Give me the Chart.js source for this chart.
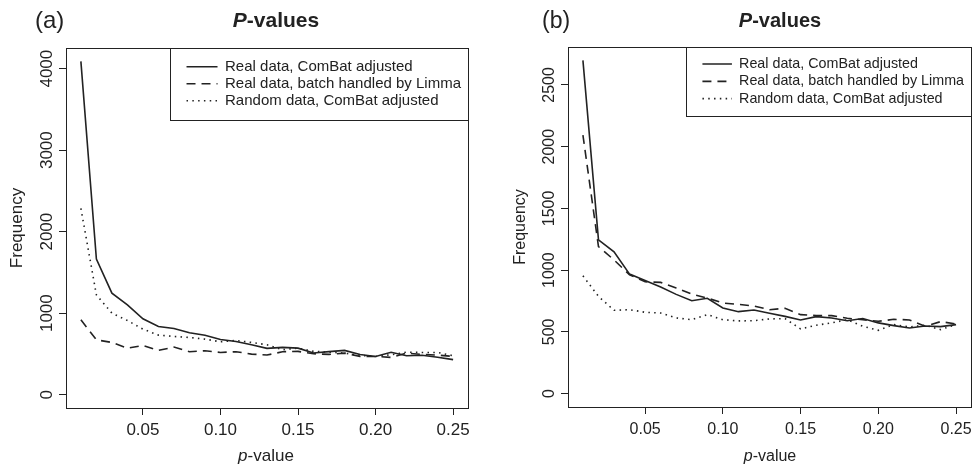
<!DOCTYPE html>
<html>
<head>
<meta charset="utf-8">
<title>P-values</title>
<script src="https://cdn.jsdelivr.net/npm/chart.js@4.4.1/dist/chart.umd.min.js"></script>
<style>
  html, body { margin: 0; padding: 0; background: #fff; }
  body { position: relative; width: 974px; height: 466px; overflow: hidden;
         font-family: 'Liberation Sans', Arial, sans-serif; color: #222; }
  canvas { position: absolute; top: 0; }
  .t { position: absolute; white-space: nowrap; line-height: 1; z-index: 2; }
  .mid { transform: translateX(-50%); }
  .bold { font-weight: bold; }
</style>
</head>
<body>
<canvas id="chartA" width="487" height="466" style="left:0"></canvas>
<canvas id="chartB" width="487" height="466" style="left:487px"></canvas>

<div class="t" style="left:35px;top:8px;font-size:24px">(a)</div>
<div class="t mid bold" style="left:276px;top:9px;font-size:21px"><i>P</i>-values</div>
<div class="t mid" style="left:266px;top:447px;font-size:17px"><i>p</i>-value</div>

<div class="t" style="left:542px;top:9px;font-size:23px">(b)</div>
<div class="t mid bold" style="left:780px;top:10px;font-size:20px"><i>P</i>-values</div>
<div class="t mid" style="left:770px;top:448px;font-size:16px"><i>p</i>-value</div>

<script>
// x positions (p-value bins) and tick labels
const pValues = [0.01, 0.02, 0.03, 0.04, 0.05, 0.06, 0.07, 0.08, 0.09, 0.10,
                 0.11, 0.12, 0.13, 0.14, 0.15, 0.16, 0.17, 0.18, 0.19, 0.20,
                 0.21, 0.22, 0.23, 0.24, 0.25];
const xTicks = [0.05, 0.10, 0.15, 0.20, 0.25];
const aYTicks = [0, 1000, 2000, 3000, 4000];
const bYTicks = [0, 500, 1000, 1500, 2000, 2500];

const seriesNames = ['Real data, ComBat adjusted',
                     'Real data, batch handled by Limma',
                     'Random data, ComBat adjusted'];

// panel (a)
const aCombat = [4090, 1665, 1245, 1102, 931, 837, 812, 760, 728, 676, 653, 612, 568,
                 580, 571, 512, 528, 543, 492, 469, 520, 478, 484, 460, 430];
const aLimma  = [918, 673, 641, 571, 604, 543, 584, 527, 539, 518, 527, 498, 486,
                 527, 531, 502, 494, 510, 469, 469, 457, 510, 494, 486, 469];
const aRandom = [2286, 1224, 1000, 910, 804, 731, 714, 702, 682, 649, 665, 641, 612,
                 551, 571, 531, 522, 510, 482, 469, 490, 522, 518, 518, 478];

// panel (b)
const bCombat = [2699, 1245, 1148, 968, 917, 863, 804, 753, 772, 694, 664, 677, 651,
                 626, 597, 624, 613, 591, 608, 573, 551, 532, 548, 543, 559];
const bLimma  = [2094, 1191, 1083, 962, 906, 901, 855, 806, 774, 734, 723, 710, 680,
                 691, 640, 632, 632, 610, 599, 586, 602, 597, 546, 583, 565];
const bRandom = [954, 788, 675, 680, 659, 653, 613, 599, 640, 599, 589, 591, 605,
                 608, 524, 554, 573, 599, 546, 513, 559, 540, 554, 519, 559];

const ink = '#222';
const family = "'Liberation Sans', Arial, sans-serif";
const dashes = [[], [9, 6], [1.5, 4.3]];

Chart.defaults.font.family = family;
Chart.defaults.color = ink;

// moves the legend into the top right corner of the plot
const legendBox = {
  id: 'legendBox',
  afterLayout(chart, args, o) {
    const lg = chart.legend, ca = chart.chartArea, ctx = chart.ctx;
    ctx.save();
    ctx.font = o.fontSize + 'px ' + family;
    const tw = Math.max(...chart.data.datasets.map(d => ctx.measureText(d.label).width));
    ctx.restore();
    const w = o.inset + o.pointW + o.fontSize / 2 + tw + o.gapRight;
    const left = ca.right - w;
    lg.left = left + o.inset - o.padding;
    lg.top = ca.top + o.top;
    lg.right = ca.right;
    lg.bottom = ca.bottom;
    lg.width = lg.right - lg.left;
    lg.height = lg.bottom - lg.top;
    chart.$box = { left: left, top: ca.top, width: w, height: o.height };
  }
};

// R style box round the plot and the legend
const frame = {
  id: 'frame',
  afterDraw(chart) {
    const { ctx, chartArea: a } = chart;
    ctx.save();
    ctx.strokeStyle = ink;
    ctx.lineWidth = 1;
    ctx.strokeRect(Math.round(a.left) + 0.5, Math.round(a.top) + 0.5,
                   Math.round(a.right - a.left), Math.round(a.bottom - a.top));
    const b = chart.$box;
    if (b) {
      ctx.strokeRect(Math.round(b.left) + 0.5, Math.round(b.top) + 0.5,
                     Math.round(a.right) - Math.round(b.left), Math.round(b.height));
    }
    ctx.restore();
  }
};

// legend items keep the dataset's dash pattern
function dashedLabels(chart) {
  return Chart.defaults.plugins.legend.labels.generateLabels(chart).map(item => {
    const ds = chart.data.datasets[item.datasetIndex];
    item.lineDash = ds.borderDash;
    item.lineWidth = ds.borderWidth;
    item.strokeStyle = ds.borderColor;
    return item;
  });
}

function makePanel(id, series, yTicks, p) {
  const yMax = Math.max(...series.flat());
  const xr = (pValues[pValues.length - 1] - pValues[0]) * 0.04;

  new Chart(document.getElementById(id), {
    type: 'line',
    data: {
      datasets: series.map((s, i) => ({
        label: seriesNames[i],
        data: s.map((v, j) => ({ x: pValues[j], y: v })),
        borderColor: ink,
        backgroundColor: ink,
        borderWidth: 1.6,
        borderDash: dashes[i],
        pointRadius: 0,
        tension: 0,
        fill: false
      }))
    },
    options: {
      responsive: false,
      devicePixelRatio: 1,
      animation: false,
      layout: { padding: p.pad },
      plugins: {
        title: { display: false },
        tooltip: { enabled: false },
        legend: {
          position: 'chartArea',
          align: 'start',
          labels: {
            usePointStyle: true,
            pointStyle: 'line',
            pointStyleWidth: p.pointW,
            padding: p.legendPad,
            color: ink,
            font: { size: p.legendFont, family: family },
            generateLabels: dashedLabels
          }
        },
        legendBox: {
          fontSize: p.legendFont, pointW: p.pointW, padding: p.legendPad,
          inset: 16.5, gapRight: 7, top: p.legendTop, height: p.boxH
        }
      },
      scales: {
        x: {
          type: 'linear',
          min: pValues[0] - xr,
          max: pValues[pValues.length - 1] + xr,
          afterBuildTicks: s => { s.ticks = xTicks.map(v => ({ value: v })); },
          afterFit: s => { s.height = p.xHeight; s.paddingLeft = 0; s.paddingRight = 0; },
          grid: { drawOnChartArea: false, drawTicks: true, tickLength: 7, color: ink },
          border: { display: false },
          ticks: {
            autoSkip: false, maxRotation: 0, padding: p.xTickPad, color: ink,
            font: { size: p.tickFont },
            callback: v => v.toFixed(2)
          }
        },
        y: {
          type: 'linear',
          min: -0.04 * yMax,
          max: 1.04 * yMax,
          afterBuildTicks: s => { s.ticks = yTicks.map(v => ({ value: v })); },
          afterFit: s => { s.width = p.yWidth; s.paddingTop = 0; s.paddingBottom = 0; },
          grid: { drawOnChartArea: false, drawTicks: true, tickLength: 7, color: ink },
          border: { display: false },
          title: {
            display: true, text: 'Frequency', color: ink,
            font: { size: p.tickFont },
            padding: { top: p.yTitlePad, bottom: 0 }
          },
          ticks: {
            autoSkip: false, minRotation: 90, maxRotation: 90,
            crossAlign: 'center', padding: p.yTickPad, color: ink,
            font: { size: p.tickFont },
            callback: v => String(v)
          }
        }
      }
    },
    plugins: [legendBox, frame]
  });
}

makePanel('chartA', [aCombat, aLimma, aRandom], aYTicks, {
  pad: { left: 0, right: 19, top: 48, bottom: 0 },
  yWidth: 66, xHeight: 58, tickFont: 17, xTickPad: 5, yTickPad: -7, yTitlePad: 6.8,
  legendFont: 15, legendPad: 2, pointW: 31, legendTop: 9.2, boxH: 72
});

makePanel('chartB', [bCombat, bLimma, bRandom], bYTicks, {
  pad: { left: 0, right: 3, top: 47, bottom: 0 },
  yWidth: 81, xHeight: 59, tickFont: 16, xTickPad: 6.4, yTickPad: -6.5, yTitlePad: 24.4,
  legendFont: 14.3, legendPad: 3, pointW: 29.5, legendTop: 6.9, boxH: 69
});
</script>
</body>
</html>
